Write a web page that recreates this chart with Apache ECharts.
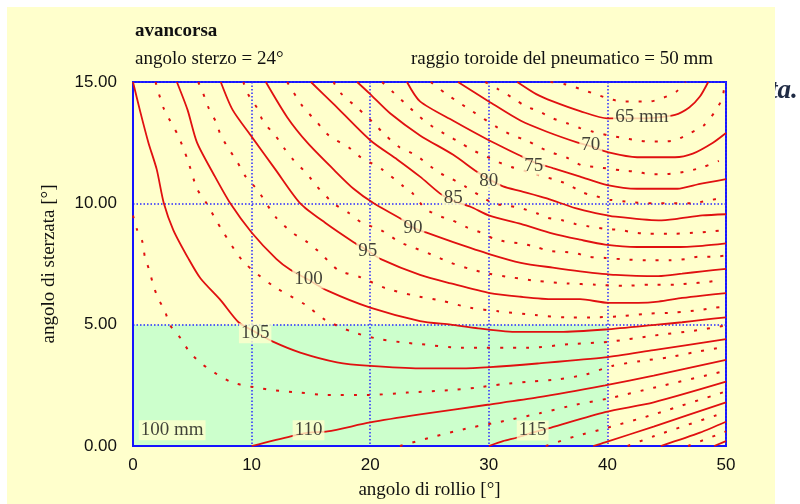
<!DOCTYPE html>
<html><head><meta charset="utf-8">
<script src="https://cdn.jsdelivr.net/npm/echarts@6/dist/echarts.min.js"></script>
<style>html,body{margin:0;padding:0;background:#fff}#c{width:800px;height:504px}</style>
</head><body><div id="c"></div>
<script>
// ---- tick values ----
const xTicks = [0, 10, 20, 30, 40, 50];
const yTicks = [0, 5, 10, 15];

// ---- solid contours (trail, mm): [roll angle, steer angle] ----
const s65 = [[32.4,15],[34.0,14.5],[35.4,14.2],[37.7,13.8],[40.0,13.5],[42.9,13.5],[45.7,13.65],[46.9,13.95],[47.8,14.4],[48.5,15]];
const s70 = [[27.4,15],[30.0,14.2],[32.7,13.4],[34.9,12.95],[37.5,12.5],[38.6,12.35],[40.1,12.1],[42.5,11.9],[45.7,11.9],[47.2,12.05],[48.9,12.5],[50,12.9]];
const s75 = [[23.1,15],[24.2,14.2],[27.0,13.4],[30.0,12.6],[32.7,11.95],[33.8,11.7],[35.4,11.45],[37.7,11.1],[40.0,10.75],[42.5,10.6],[45.9,10.6],[47.8,10.8],[50,11.0]];
const s80 = [[18.9,15],[20.0,14.5],[21.7,13.7],[24.2,12.8],[27.0,12.0],[29.0,11.3],[30.0,11.0],[31.2,10.7],[32.7,10.5],[34.9,10.2],[37.3,9.8],[39.0,9.6],[40.7,9.45],[44.3,9.3],[45.7,9.35],[48.0,9.5],[50,9.55]];
const s85 = [[15.0,15],[16.9,14.1],[20.0,12.6],[22.3,11.8],[24.2,11.1],[25.9,10.4],[27.0,10.1],[28.5,9.85],[30.0,9.5],[32.7,9.15],[35.4,8.75],[37.7,8.5],[39.8,8.3],[42.5,8.2],[45.7,8.2],[48.0,8.25],[50,8.35]];
const s90 = [[11.2,15],[13.0,13.55],[14.7,12.5],[16.9,11.4],[18.6,10.6],[20.3,10.0],[22.8,9.3],[23.6,9.0],[24.7,8.8],[27.0,8.4],[30.1,7.9],[32.7,7.55],[35.4,7.35],[37.7,7.2],[40.7,7.05],[44.3,7.0],[46.3,7.1],[48.0,7.2],[50,7.3]];
const s95 = [[7.4,15],[8.4,13.85],[10.0,12.75],[12.0,11.4],[14.1,10.0],[16.2,9.2],[18.6,8.4],[19.8,8.05],[20.9,7.7],[24.2,7.05],[26.8,6.7],[30.1,6.3],[32.7,6.15],[35.4,6.05],[37.7,6.05],[40.1,5.9],[42.6,5.9],[44.3,5.95],[46.3,6.1],[48.0,6.2],[50,6.3]];
const s100 = [[3.7,15],[4.6,13.85],[5.4,12.5],[6.8,11.2],[8.2,10.0],[10.0,8.8],[12.1,7.7],[13.3,7.25],[14.8,6.85],[16.4,6.4],[20.0,5.7],[24.2,5.15],[26.8,5.0],[29.1,4.85],[32.4,4.7],[36.0,4.7],[39.8,4.8],[44.2,5.0],[46.3,5.1],[48.0,5.2],[50,5.3]];
const s105 = [[0.0,15],[0.6,13.8],[1.3,12.5],[2.0,11.4],[2.6,10.0],[3.4,8.9],[4.7,7.7],[5.7,6.9],[7.4,6.0],[8.9,5.1],[10.3,4.7],[11.8,4.3],[14.1,3.85],[17.2,3.45],[20.0,3.3],[24.2,3.2],[27.6,3.2],[30.1,3.25],[34.1,3.4],[39.8,3.65],[43.9,3.95],[50,4.4]];
const s110 = [[10.0,0.0],[13.3,0.4],[14.8,0.55],[16.4,0.6],[20.0,0.97],[24.2,1.3],[29.9,1.7],[34.1,2.0],[39.8,2.5],[43.9,2.9],[50,3.55]];
const s115 = [[30.0,0.0],[31.2,0.2],[32.4,0.35],[33.7,0.55],[35.2,0.75],[39.8,1.4],[43.9,1.8],[50,2.65]];
const s120 = [[38.8,0],[39.8,0.15],[43.9,0.8],[50,1.8]];
const s125 = [[44.5,0],[47.8,0.55],[50,1.0]];
const s130 = [[49.0,0],[50,0.2]];

// ---- dotted (intermediate) contours ----
const d62 = [[35.2,15],[36.5,14.9],[37.8,14.7],[39.0,14.5],[40.2,14.3],[41.3,14.2],[42.4,14.2],[43.6,14.2],[44.7,14.35],[45.8,14.6],[46.6,15]];
const d67 = [[29.7,15],[30.8,14.7],[32.0,14.35],[33.1,14.0],[34.2,13.8],[35.4,13.5],[36.6,13.3],[37.7,13.1],[38.8,12.95],[40.1,12.8],[41.3,12.7],[42.4,12.6],[43.5,12.55],[44.6,12.55],[45.7,12.6],[47.0,12.9],[48.1,13.2],[49.1,13.8],[49.7,14.35],[49.9,15]];
const d72 = [[25.1,15],[26.3,14.55],[27.5,14.15],[28.6,13.8],[30.8,13.1],[32.0,12.8],[33.3,12.57],[34.3,12.3],[35.4,12.08],[36.6,11.88],[37.9,11.55],[39.0,11.5],[41.3,11.35],[42.5,11.3],[43.6,11.2],[44.7,11.2],[45.9,11.25],[47.0,11.35],[48.1,11.5],[49.4,11.75]];
const d77 = [[21.0,15],[22.0,14.55],[23.1,14.05],[24.2,13.55],[25.3,13.15],[26.5,12.8],[27.6,12.5],[28.6,12.2],[29.7,11.95],[30.8,11.7],[31.9,11.5],[33.3,11.3],[34.3,11.15],[35.4,11.0],[36.6,10.8],[37.9,10.45],[39.0,10.3],[40.2,10.15],[42.0,10.05],[43.8,10.0],[44.9,10.0],[47.2,10.0],[48.3,10.1],[50,10.25]];
const d82 = [[16.9,15],[17.5,14.55],[19.0,13.9],[20.2,13.35],[21.3,12.8],[22.5,12.3],[23.8,12.0],[25.7,11.3],[26.9,11.0],[28.0,10.7],[29.3,10.3],[30.4,10.0],[31.6,9.9],[32.7,9.8],[34.0,9.6],[35.0,9.4],[36.2,9.3],[37.3,9.15],[38.4,9.05],[39.8,8.95],[41.1,8.9],[42.2,8.8],[43.3,8.75],[45.7,8.75],[47.7,8.8],[48.9,8.85],[50,8.9]];
const d87 = [[13.0,15],[14.3,14.0],[15.5,13.35],[16.5,12.8],[18.2,12.3],[19.2,11.9],[21.0,11.4],[22.8,10.7],[23.6,10.4],[24.6,9.8],[25.7,9.5],[26.9,9.3],[28.2,9.0],[29.3,8.8],[30.4,8.55],[31.6,8.4],[32.7,8.35],[34.0,8.2],[35.0,8.05],[36.2,8.0],[37.3,7.95],[38.4,7.8],[39.8,7.75],[41.1,7.7],[43.3,7.65],[45.3,7.65],[46.6,7.7],[47.7,7.8],[48.9,7.8],[50,7.85]];
const d92 = [[9.3,15],[9.7,14.5],[10.5,13.9],[11.0,13.35],[12.0,12.8],[12.7,12.3],[13.5,11.8],[14.7,11.2],[15.5,10.7],[16.9,10.0],[18.2,9.6],[19.3,9.2],[20.9,8.9],[22.5,8.4],[23.8,8.15],[25.1,7.9],[26.8,7.55],[28.4,7.3],[30.0,7.1],[31.9,6.95],[34.1,6.8],[36.6,6.7],[39.0,6.65],[41.4,6.6],[43.6,6.65],[45.7,6.65],[47.0,6.7],[48.3,6.75],[49.6,6.85]];
const d97 = [[5.5,15],[5.9,14.55],[6.4,13.9],[7.0,13.35],[7.4,12.8],[8.0,12.3],[8.8,11.7],[9.5,11.1],[10.5,10.55],[12.0,9.45],[13.4,8.8],[14.7,8.4],[15.8,7.95],[17.3,7.25],[19.2,6.95],[21.3,6.5],[23.7,6.2],[25.9,6.0],[28.4,5.7],[30.8,5.55],[33.9,5.4],[36.5,5.3],[38.6,5.3],[41.2,5.35],[43.3,5.45],[45.7,5.5],[47.8,5.6],[49.1,5.7],[50,5.75]];
const d102 = [[1.9,15],[2.6,13.9],[3.8,12.8],[4.6,11.8],[5.4,10.6],[6.2,10.0],[7.5,8.9],[9.3,7.6],[11.8,6.6],[14.6,5.8],[16.2,5.2],[18.5,4.7],[20.8,4.4],[23.1,4.25],[24.2,4.2],[27.6,4.05],[33.3,4.05],[36.9,4.2],[40.2,4.3],[43.9,4.55],[47.3,4.75],[49.8,4.95]];
const d107 = [[0,9.5],[0.35,8.9],[0.8,8.4],[1.0,7.8],[1.4,7.2],[1.7,6.65],[2.1,6.1],[2.7,5.55],[3.1,5.0],[4.0,4.45],[4.8,3.85],[5.9,3.35],[7.1,2.95],[8.2,2.65],[9.3,2.5],[10.5,2.4],[11.8,2.3],[12.9,2.25],[14.1,2.2],[16.2,2.1],[19.8,2.1],[23.1,2.2],[26.6,2.3],[28.9,2.4],[31.2,2.55],[33.5,2.65],[35.9,2.75],[38.2,2.95],[40.4,3.3],[42.8,3.5],[45.1,3.65],[47.2,3.85],[49.5,4.05]];
const d112 = [[22.5,0],[25.1,0.35],[28.4,0.75],[31.0,1.0],[34.3,1.35],[37.3,1.7],[40.0,1.95],[43.9,2.4],[50,3.1]];
const d117 = [[34.8,0],[37.3,0.4],[40.0,0.75],[43.9,1.3],[50,2.25]];
const d122 = [[41.7,0],[43.9,0.4],[50,1.4]];
const d127 = [[46.8,0],[50,0.6]];

// ---- contour labels: text, roll, steer ----
const labelText = ['65 mm','70','75','80','85','90','95','100','105','110','115','100 mm'];
const labelX    = [42.9, 38.6, 33.8, 30.0, 27.0, 23.6, 19.8, 14.8, 10.3, 14.8, 33.7, 3.3];
const labelY    = [13.55,12.4, 11.55,10.9, 10.2, 9.0,  8.05, 6.9,  4.65, 0.65, 0.64, 0.65];

// ---- shaded region (roll 0..40, steer 0..5) ----
const greenRoll = [0, 40];
const greenSteer = [0, 5];

const solids = [s65,s70,s75,s80,s85,s90,s95,s100,s105,s110,s115,s120,s125,s130];
const dotted = [d62,d67,d72,d77,d82,d87,d92,d97,d102,d107,d112,d117,d122,d127];

const RED = '#e01010';
const BLUE = '#1414ff';
const SERIF = '"Liberation Serif", "Times New Roman", serif';

const series = [];
series.push({
  type: 'line', data: [], z: 1, silent: true,
  markArea: {
    silent: true,
    itemStyle: { color: '#ccffcc' },
    data: [[{ coord: [greenRoll[0], greenSteer[0]] }, { coord: [greenRoll[1], greenSteer[1]] }]]
  }
});
solids.forEach(d => series.push({
  type: 'line', data: d, showSymbol: false, smooth: 0.25, z: 4, silent: true,
  lineStyle: { color: RED, width: 1.8 }
}));
dotted.forEach(d => series.push({
  type: 'line', data: d, showSymbol: false, smooth: 0.25, z: 4, silent: true,
  lineStyle: { color: RED, width: 2, type: [3, 10] }
}));
series.push({
  type: 'scatter', z: 6, symbolSize: 0, silent: true,
  data: labelText.map((t, i) => ({ name: t, value: [labelX[i], labelY[i]] })),
  label: {
    show: true, position: 'inside', formatter: p => p.name,
    fontFamily: SERIF, fontSize: 19, color: '#111',
    backgroundColor: '#ffffcc', padding: [1, 2, 0, 2]
  }
});

const chart = echarts.init(document.getElementById('c'), null, { renderer: 'canvas' });
chart.setOption({
  backgroundColor: '#ffffff',
  animation: false,
  graphic: [
    { type: 'text', z: -30, left: 770, top: 78, style: { text: 'ta.', font: 'italic bold 27px "Liberation Serif"', fill: '#1f2a44' } },
    { type: 'rect', z: -20, shape: { x: 7, y: 7, width: 768, height: 497 }, style: { fill: '#ffffcc' } },
    { type: 'text', left: 135, top: 22, style: { text: 'avancorsa', font: 'bold 19px "Liberation Serif"', fill: '#111' } },
    { type: 'text', left: 135, top: 50, style: { text: 'angolo sterzo = 24°', font: '19px "Liberation Serif"', fill: '#111' } },
    { type: 'text', right: 87, top: 50, style: { text: 'raggio toroide del pneumatico = 50 mm', font: '19px "Liberation Serif"', fill: '#111' } }
  ],
  grid: { left: 133, top: 82, width: 593, height: 364, outerBoundsMode: 'none', containLabel: false, show: true, backgroundColor: '#ffffcc', borderColor: BLUE, borderWidth: 2 },
  xAxis: {
    type: 'value', min: xTicks[0], max: xTicks[xTicks.length - 1], interval: 10, z: 3,
    name: 'angolo di rollio [°]', nameLocation: 'middle', nameGap: 35,
    nameTextStyle: { fontFamily: SERIF, fontSize: 19, color: '#111' },
    axisLine: { show: true, lineStyle: { color: BLUE, width: 2 } },
    axisTick: { show: false },
    axisLabel: { margin: 11, fontFamily: '"Liberation Sans"', fontSize: 17, color: '#111' },
    splitLine: { show: true, lineStyle: { color: '#2a2aff', width: 1.5, type: [1.5, 2] } }
  },
  yAxis: {
    type: 'value', min: yTicks[0], max: yTicks[yTicks.length - 1], interval: 5, z: 3,
    name: 'angolo di sterzata [°]', nameLocation: 'middle', nameGap: 74,
    nameTextStyle: { fontFamily: SERIF, fontSize: 19, color: '#111' },
    axisLine: { show: true, lineStyle: { color: BLUE, width: 2 } },
    axisTick: { show: false },
    axisLabel: { margin: 16, padding: [0, 0, 6, 0], fontFamily: '"Liberation Sans"', fontSize: 17, color: '#111', formatter: v => v.toFixed(2) },
    splitLine: { show: true, lineStyle: { color: '#2a2aff', width: 1.5, type: [1.5, 2] } }
  },
  series: series
});
</script>
</body></html>
